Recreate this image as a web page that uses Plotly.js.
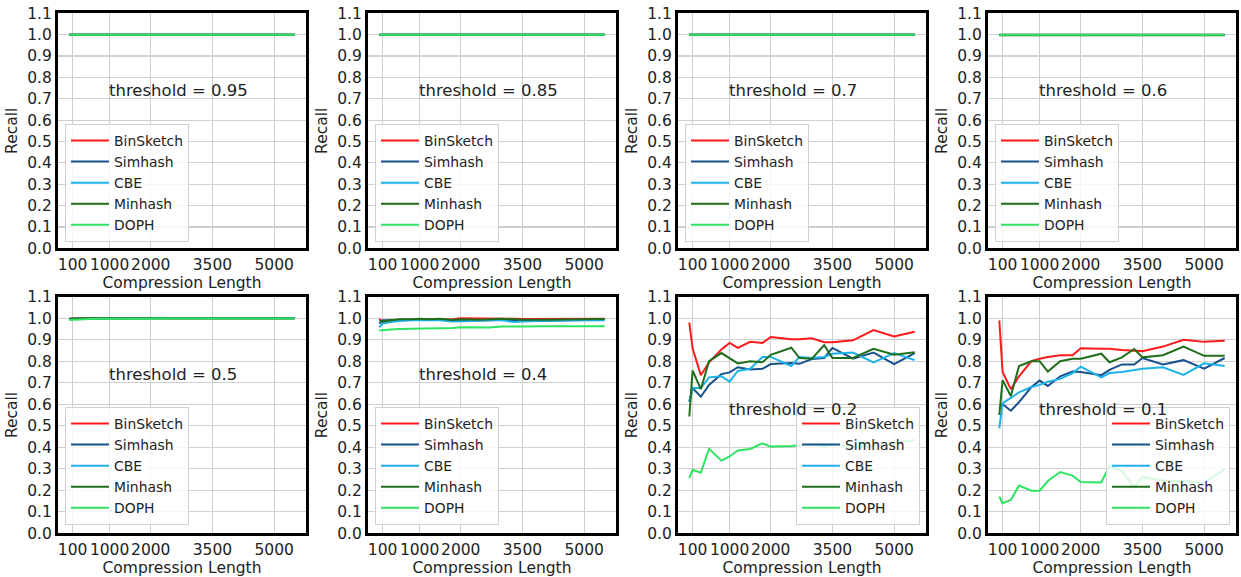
<!DOCTYPE html>
<html><head><meta charset="utf-8">
<script src="https://cdn.plot.ly/plotly-3.0.1.min.js"></script>
<style>html,body{margin:0;padding:0;background:#fff;} #chart{width:1241px;height:577px;}</style>
</head><body><div id="chart"></div>
<script>
// ---------- DATA ----------
const compressionLength = [20,100,300,500,800,1000,1200,1500,1800,2000,2500,2700,3000,3300,3500,4000,4500,5000,5500];
const xTickVals = [100,1000,2000,3500,5000];
const xTickText = ['100','1000','2000','3500','5000'];
const yTickVals = [0,0.1,0.2,0.3,0.4,0.5,0.6,0.7,0.8,0.9,1.0,1.1];
const methods = ['BinSketch','Simhash','CBE','Minhash','DOPH'];
const thresholds = ['0.95','0.85','0.7','0.6','0.5','0.4','0.2','0.1'];

const recallPerfect = [1,1,1,1,1,1,1,1,1,1,1,1,1,1,1,1,1,1,1];

// threshold 0.6
const t06_Simhash = [0.999,0.998,0.998,0.998,0.998,0.998,0.998,0.998,0.998,0.998,0.998,0.998,0.998,0.998,0.998,0.998,0.998,0.998,0.998];
const t06_Minhash = [0.997,0.997,0.997,0.997,0.997,0.997,0.997,0.997,0.997,0.997,0.997,0.997,0.997,0.997,0.997,0.997,0.997,0.997,0.997];

// threshold 0.5
const t05_BinSketch = [0.998,0.999,1,0.999,1,1,1,1,1,1,1,1,1,1,1,1,1,1,1];
const t05_Simhash   = [0.995,0.998,0.999,0.998,0.999,1,1,0.999,1,1,1,1,1,1,1,1,1,1,1];
const t05_CBE       = [0.995,0.997,0.998,0.999,0.999,0.999,1,1,1,0.999,1,1,1,1,1,1,1,1,1];
const t05_Minhash   = [0.998,0.999,0.999,1,1,1,1,1,1,1,1,1,1,1,1,1,1,1,1];
const t05_DOPH      = [0.992,0.993,0.995,0.996,0.997,0.998,0.998,0.998,0.998,0.999,0.999,0.999,0.999,0.999,0.999,0.999,0.999,0.999,0.999];

// threshold 0.4
const t04_BinSketch = [0.997,0.982,0.99,0.992,0.993,0.993,0.995,0.994,0.995,1.0,1.0,0.998,1.0,0.997,0.996,0.996,0.997,0.997,0.998];
const t04_Simhash   = [0.975,0.99,0.99,0.992,0.993,0.992,0.993,0.995,0.99,0.99,0.988,0.99,0.993,0.99,0.988,0.988,0.99,0.992,0.994];
const t04_CBE       = [0.958,0.975,0.982,0.987,0.99,0.99,0.99,0.99,0.985,0.985,0.988,0.99,0.99,0.982,0.985,0.988,0.988,0.99,0.99];
const t04_Minhash   = [0.99,0.985,0.99,0.995,0.995,0.997,0.995,0.998,0.992,0.995,0.993,0.995,0.997,0.995,0.993,0.993,0.995,0.995,0.996];
const t04_DOPH      = [0.943,0.945,0.948,0.95,0.951,0.951,0.952,0.952,0.955,0.958,0.958,0.957,0.962,0.961,0.962,0.963,0.963,0.963,0.963];

// threshold 0.2
const t02_BinSketch = [0.98,0.86,0.735,0.795,0.855,0.885,0.862,0.89,0.885,0.913,0.902,0.902,0.907,0.888,0.888,0.897,0.945,0.915,0.937];
const t02_Simhash   = [0.612,0.675,0.635,0.69,0.74,0.748,0.772,0.762,0.765,0.787,0.792,0.788,0.81,0.815,0.862,0.812,0.84,0.787,0.838];
const t02_CBE       = [0.612,0.675,0.675,0.725,0.73,0.705,0.755,0.765,0.82,0.82,0.778,0.82,0.815,0.82,0.835,0.84,0.795,0.838,0.805];
const t02_Minhash   = [0.543,0.757,0.67,0.80,0.838,0.815,0.79,0.80,0.795,0.83,0.863,0.815,0.812,0.875,0.815,0.815,0.858,0.83,0.842];
const t02_DOPH      = [0.256,0.295,0.282,0.393,0.338,0.357,0.385,0.392,0.418,0.403,0.406,0.41,0.414,0.403,0.414,0.403,0.406,0.42,0.434];

// threshold 0.1
const t01_BinSketch = [0.99,0.75,0.67,0.73,0.80,0.812,0.82,0.828,0.828,0.86,0.858,0.858,0.852,0.847,0.847,0.868,0.90,0.89,0.895];
const t01_Simhash   = [0.58,0.60,0.57,0.61,0.68,0.71,0.685,0.73,0.752,0.75,0.735,0.76,0.785,0.785,0.815,0.785,0.805,0.765,0.815];
const t01_CBE       = [0.488,0.605,0.63,0.655,0.68,0.69,0.705,0.718,0.745,0.775,0.725,0.745,0.75,0.76,0.765,0.772,0.736,0.79,0.778];
const t01_Minhash   = [0.55,0.712,0.638,0.778,0.80,0.80,0.752,0.80,0.812,0.812,0.835,0.795,0.818,0.857,0.818,0.828,0.868,0.825,0.825];
const t01_DOPH      = [0.171,0.14,0.155,0.222,0.198,0.198,0.243,0.285,0.268,0.238,0.236,0.313,0.29,0.214,0.262,0.245,0.242,0.235,0.298];

const panelSeries = [
  [recallPerfect, recallPerfect, recallPerfect, recallPerfect, recallPerfect],
  [recallPerfect, recallPerfect, recallPerfect, recallPerfect, recallPerfect],
  [recallPerfect, recallPerfect, recallPerfect, recallPerfect, recallPerfect],
  [recallPerfect, t06_Simhash, recallPerfect, t06_Minhash, recallPerfect],
  [t05_BinSketch, t05_Simhash, t05_CBE, t05_Minhash, t05_DOPH],
  [t04_BinSketch, t04_Simhash, t04_CBE, t04_Minhash, t04_DOPH],
  [t02_BinSketch, t02_Simhash, t02_CBE, t02_Minhash, t02_DOPH],
  [t01_BinSketch, t01_Simhash, t01_CBE, t01_Minhash, t01_DOPH]
];

// ---------- STYLE ----------
const methodColors = ['#ff1a1a','#17508a','#1cb2ea','#1f6e1c','#2fe462'];
const W = 1241, H = 577;
const FONT = 'DejaVu Sans, sans-serif';
const panelLeft = [58,368,678,988];
const panelWidth = 248;
const rowTop = [13.3, 296.7];
const rowBottom = [248.3, 533.3];

const traces = [];
const layout = {
  width: W, height: H,
  margin: {l:0, r:0, t:0, b:0},
  paper_bgcolor: '#fff', plot_bgcolor: '#fff',
  showlegend: true,
  font: {family: FONT, color: '#222'},
  annotations: []
};

for (let p = 0; p < 8; p++) {
  const row = Math.floor(p / 4), col = p % 4;
  const n = p + 1;
  const xa = 'xaxis' + (n > 1 ? n : '');
  const ya = 'yaxis' + (n > 1 ? n : '');
  const xr = 'x' + (n > 1 ? n : '');
  const yr = 'y' + (n > 1 ? n : '');
  const lg = 'legend' + (n > 1 ? n : '');

  layout[xa] = {
    domain: [panelLeft[col] / W, (panelLeft[col] + panelWidth) / W],
    anchor: yr,
    range: [-255, 5775],
    tickmode: 'array', tickvals: xTickVals, ticktext: xTickText,
    tickangle: 0,
    ticks: '', showgrid: true, gridcolor: '#cfcfcf', gridwidth: 1.2,
    zeroline: false,
    showline: true, mirror: true, linecolor: '#000', linewidth: 3,
    tickfont: {family: FONT, size: 15.5, color: '#222'},
    title: {text: 'Compression Length', font: {family: FONT, size: 15.5, color: '#222'}, standoff: 4},
    automargin: false, fixedrange: true
  };
  layout[ya] = {
    domain: [1 - rowBottom[row] / H, 1 - rowTop[row] / H],
    anchor: xr,
    range: [0, 1.1],
    tickmode: 'array', tickvals: yTickVals, tickformat: '.1f',
    ticks: '', showgrid: true, gridcolor: '#cfcfcf', gridwidth: 1.2,
    zeroline: false,
    showline: true, mirror: true, linecolor: '#000', linewidth: 3,
    tickfont: {family: FONT, size: 15.5, color: '#222'},
    title: {text: 'Recall', font: {family: FONT, size: 15.5, color: '#222'}, standoff: 6},
    automargin: false, fixedrange: true
  };

  const rightLegend = (p >= 6);
  const legendBottom = row === 0 ? 242 : 525;
  layout[lg] = {
    x: rightLegend ? (panelLeft[col] + panelWidth - 6) / W : (panelLeft[col] + 7) / W,
    xanchor: rightLegend ? 'right' : 'left',
    y: 1 - legendBottom / H, yanchor: 'bottom',
    bgcolor: 'rgba(255,255,255,0.8)', bordercolor: '#d0d0d0', borderwidth: 1,
    font: {family: FONT, size: 13.9, color: '#222'},
    tracegroupgap: 0, itemwidth: 38
  };

  for (let m = 0; m < 5; m++) {
    traces.push({
      type: 'scatter', mode: 'lines',
      x: compressionLength, y: panelSeries[p][m],
      name: methods[m], xaxis: xr, yaxis: yr, legend: lg,
      line: {color: methodColors[m], width: 2},
      hoverinfo: 'skip'
    });
  }

  layout.annotations.push({
    xref: xr, yref: yr, x: 930,
    y: p >= 6 ? 0.577 : (row === 0 ? 0.741 : 0.736),
    xanchor: 'left', yanchor: 'middle', showarrow: false,
    text: 'threshold = ' + thresholds[p],
    font: {family: FONT, size: 16.5, color: '#222'}
  });
}

Plotly.newPlot('chart', traces, layout, {displayModeBar: false, staticPlot: true});
</script>
</body></html>
